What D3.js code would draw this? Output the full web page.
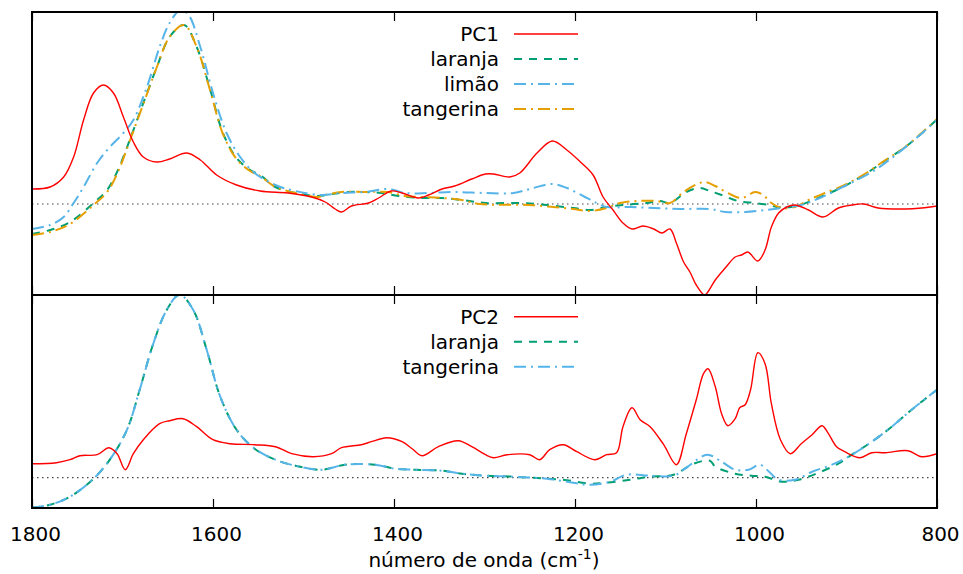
<!DOCTYPE html>
<html>
<head>
<meta charset="utf-8">
<script src="https://cdn.jsdelivr.net/npm/d3@7"></script>
<style>
  html, body { margin: 0; padding: 0; background: #fff; }
  svg { display: block; font-family: "DejaVu Sans", sans-serif; }
</style>
</head>
<body>
<svg id="chart" width="963" height="574"></svg>
<script>
// ---------------- DATA (wavenumber cm-1, arbitrary intensity) ----------------
const xTicks = [1800, 1600, 1400, 1200, 1000, 800];

// Top panel
const pc1 = [[1800,0.15],[1780,0.17],[1765,0.27],[1754,0.47],[1743,0.84],[1732,1.11],[1721,1.19],[1710,1.11],[1699,0.87],[1688,0.62],[1677,0.47],[1662,0.42],[1648,0.45],[1629,0.51],[1614,0.44],[1596,0.29],[1574,0.19],[1548,0.13],[1517,0.11],[1491,0.07],[1476,0.02],[1465,-0.05],[1458,-0.08],[1447,-0.02],[1428,0.01],[1417,0.06],[1403,0.13],[1391,0.11],[1373,0.06],[1362,0.09],[1347,0.15],[1333,0.18],[1314,0.25],[1299,0.30],[1290,0.30],[1272,0.27],[1261,0.31],[1242,0.51],[1225,0.63],[1209,0.54],[1194,0.42],[1180,0.29],[1169,0.07],[1158,-0.06],[1147,-0.19],[1137,-0.25],[1125,-0.22],[1113,-0.25],[1104,-0.29],[1095,-0.25],[1088,-0.39],[1080,-0.58],[1073,-0.68],[1066,-0.81],[1057,-0.91],[1054,-0.89],[1045,-0.76],[1034,-0.64],[1023,-0.53],[1016,-0.51],[1009,-0.48],[998,-0.57],[990,-0.46],[983,-0.23],[975,-0.09],[966,-0.03],[957,-0.01],[942,-0.06],[926,-0.13],[909,-0.04],[894,-0.01],[881,0.00],[865,-0.04],[835,-0.05],[817,-0.04],[800,-0.02]];

const laranja1 = [[1800,-0.30],[1780,-0.26],[1758,-0.18],[1732,0.01],[1717,0.14],[1705,0.34],[1692,0.64],[1677,1.01],[1662,1.37],[1648,1.67],[1632,1.79],[1618,1.57],[1603,1.14],[1589,0.71],[1574,0.46],[1559,0.34],[1548,0.29],[1531,0.17],[1509,0.11],[1484,0.08],[1469,0.10],[1450,0.12],[1432,0.12],[1414,0.11],[1395,0.08],[1369,0.06],[1347,0.06],[1325,0.04],[1299,0.01],[1261,0.01],[1231,-0.01],[1202,-0.04],[1183,-0.06],[1165,-0.03],[1147,-0.01],[1121,0.01],[1106,0.03],[1095,0.01],[1077,0.12],[1062,0.16],[1051,0.13],[1038,0.09],[1020,0.03],[1001,0.01],[986,-0.01],[977,-0.03],[961,-0.03],[942,0.02],[924,0.09],[902,0.18],[880,0.295],[857,0.435],[835,0.57],[817,0.705],[800,0.845]];

const limao1 = [[1800,-0.25],[1780,-0.21],[1765,-0.13],[1754,0.01],[1743,0.17],[1728,0.41],[1714,0.57],[1699,0.71],[1688,0.84],[1673,1.17],[1659,1.57],[1648,1.81],[1636,1.94],[1627,1.89],[1614,1.57],[1600,1.11],[1585,0.71],[1570,0.47],[1554,0.31],[1531,0.19],[1509,0.13],[1480,0.09],[1458,0.11],[1432,0.12],[1406,0.15],[1388,0.11],[1362,0.11],[1333,0.12],[1299,0.11],[1268,0.11],[1250,0.15],[1226,0.20],[1209,0.16],[1191,0.08],[1176,0.01],[1165,-0.03],[1139,-0.03],[1113,-0.04],[1084,-0.05],[1051,-0.05],[1034,-0.08],[1012,-0.08],[990,-0.06],[972,-0.04],[950,-0.01],[927,0.07],[902,0.18],[872,0.32],[850,0.46],[828,0.62],[800,0.84]];

const tangerina1 = [[1800,-0.31],[1780,-0.28],[1758,-0.20],[1732,-0.01],[1717,0.12],[1705,0.32],[1692,0.63],[1677,1.00],[1662,1.37],[1648,1.67],[1632,1.79],[1618,1.57],[1603,1.13],[1589,0.70],[1574,0.45],[1559,0.33],[1548,0.28],[1531,0.17],[1509,0.11],[1484,0.07],[1476,0.09],[1458,0.12],[1432,0.12],[1407,0.12],[1388,0.08],[1369,0.07],[1347,0.06],[1325,0.04],[1305,0.00],[1250,-0.01],[1224,-0.03],[1202,-0.05],[1183,-0.07],[1165,-0.04],[1150,0.01],[1132,0.03],[1110,0.03],[1095,0.01],[1080,0.12],[1065,0.20],[1056,0.22],[1045,0.18],[1031,0.11],[1016,0.06],[1001,0.12],[992,0.09],[983,0.01],[972,-0.04],[957,-0.03],[942,0.04],[924,0.11],[902,0.19],[880,0.30],[857,0.44],[835,0.57],[817,0.71],[800,0.85]];

// Bottom panel
const pc2 = [[1800,0.14],[1773,0.15],[1758,0.18],[1747,0.22],[1728,0.23],[1715,0.30],[1706,0.24],[1697,0.08],[1688,0.24],[1677,0.38],[1659,0.54],[1648,0.57],[1633,0.59],[1618,0.51],[1600,0.38],[1581,0.34],[1554,0.33],[1531,0.31],[1513,0.24],[1489,0.21],[1469,0.24],[1458,0.30],[1436,0.33],[1425,0.36],[1408,0.40],[1391,0.36],[1380,0.29],[1369,0.22],[1351,0.31],[1329,0.37],[1314,0.31],[1299,0.23],[1290,0.20],[1275,0.23],[1250,0.23],[1239,0.18],[1228,0.28],[1213,0.33],[1198,0.26],[1178,0.18],[1165,0.23],[1154,0.25],[1147,0.51],[1137,0.70],[1128,0.58],[1117,0.51],[1102,0.33],[1088,0.13],[1077,0.44],[1066,0.78],[1058,1.04],[1053,1.09],[1045,0.91],[1038,0.64],[1031,0.52],[1023,0.59],[1018,0.70],[1012,0.73],[1006,0.88],[998,1.25],[990,1.14],[983,0.74],[973,0.38],[962,0.24],[950,0.34],[938,0.43],[927,0.52],[920,0.44],[911,0.31],[902,0.26],[885,0.20],[872,0.25],[857,0.25],[832,0.27],[817,0.21],[800,0.24]];

const laranja2 = [[1800,-0.30],[1780,-0.27],[1758,-0.19],[1732,-0.01],[1714,0.18],[1695,0.48],[1681,0.88],[1666,1.34],[1651,1.68],[1637,1.83],[1622,1.68],[1607,1.28],[1592,0.81],[1574,0.48],[1554,0.29],[1531,0.18],[1509,0.12],[1480,0.08],[1454,0.13],[1421,0.13],[1399,0.09],[1377,0.08],[1347,0.07],[1325,0.04],[1299,0.02],[1268,0.01],[1231,-0.01],[1213,-0.02],[1183,-0.06],[1165,-0.05],[1139,-0.02],[1117,0.01],[1091,0.03],[1069,0.14],[1051,0.17],[1045,0.11],[1023,0.04],[1005,0.02],[990,0.01],[972,-0.04],[953,-0.02],[931,0.05],[909,0.14],[894,0.23],[872,0.36],[850,0.51],[828,0.68],[800,0.88]];

const tangerina2 = [[1800,-0.30],[1780,-0.27],[1758,-0.19],[1732,-0.01],[1714,0.18],[1695,0.48],[1681,0.88],[1666,1.34],[1651,1.68],[1637,1.83],[1622,1.68],[1607,1.28],[1592,0.81],[1574,0.48],[1554,0.29],[1531,0.18],[1509,0.12],[1480,0.08],[1454,0.13],[1421,0.13],[1399,0.09],[1377,0.08],[1347,0.07],[1325,0.04],[1299,0.02],[1268,0.01],[1231,-0.01],[1202,-0.05],[1183,-0.07],[1161,-0.04],[1143,0.03],[1117,0.02],[1091,0.02],[1077,0.10],[1054,0.23],[1038,0.16],[1023,0.08],[1008,0.08],[996,0.13],[988,0.08],[975,-0.02],[957,-0.02],[938,0.06],[916,0.13],[894,0.23],[872,0.36],[850,0.51],[828,0.68],[800,0.88]];

// ---------------- LAYOUT ----------------
const svg = d3.select("#chart");
const left = 32, right = 937;
const x = d3.scaleLinear().domain([1800, 800]).range([left, right]);

const styles = {
  pc:        { color: "#ff0000", dash: null,        width: 1.4 },
  laranja:   { color: "#009e73", dash: "8,7",       width: 2 },
  limao:     { color: "#56b4e9", dash: "12,5,2,5",  width: 2 },
  tangerina: { color: "#e69f00", dash: "12,5,2,5",  width: 2 }
};

const panels = [
  { id: "top", top: 12, bottom: 295, domain: [-0.91, 1.92],
    series: [
      { name: "PC1", data: pc1, style: styles.pc },
      { name: "laranja", data: laranja1, style: styles.laranja },
      { name: "limão", data: limao1, style: styles.limao },
      { name: "tangerina", data: tangerina1, style: styles.tangerina }
    ],
    drawOrder: [1, 3, 2, 0], legendY0: 34 },
  { id: "bot", top: 295, bottom: 508, domain: [-0.303, 1.827],
    series: [
      { name: "PC2", data: pc2, style: styles.pc },
      { name: "laranja", data: laranja2, style: styles.laranja },
      { name: "tangerina", data: tangerina2, style: styles.limao }
    ],
    drawOrder: [1, 2, 0], legendY0: 316.7 }
];

panels.forEach(p => {
  const y = d3.scaleLinear().domain(p.domain).range([p.bottom, p.top]);
  const g = svg.append("g");

  svg.append("clipPath").attr("id", "clip-" + p.id)
    .append("rect").attr("x", left).attr("y", p.top)
    .attr("width", right - left).attr("height", p.bottom - p.top);

  // zero line
  g.append("line")
    .attr("x1", left).attr("x2", right)
    .attr("y1", y(0)).attr("y2", y(0))
    .attr("stroke", "#444").attr("stroke-width", 1.2)
    .attr("stroke-dasharray", "1.5,3.5");

  const line = d3.line()
    .x(d => x(d[0])).y(d => y(d[1]))
    .curve(d3.curveCatmullRom.alpha(0.5));

  const lg = g.append("g").attr("clip-path", "url(#clip-" + p.id + ")");
  p.drawOrder.forEach(i => {
    const s = p.series[i];
    lg.append("path")
      .datum(s.data)
      .attr("d", line)
      .attr("fill", "none")
      .attr("stroke", s.style.color)
      .attr("stroke-width", s.style.width)
      .attr("stroke-dasharray", s.style.dash)
      .attr("stroke-linejoin", "round");
  });

  // ticks: inward at top and bottom
  const axTop = d3.axisBottom(x).tickValues(xTicks).tickSize(9).tickFormat("");
  const axBot = d3.axisTop(x).tickValues(xTicks).tickSize(9).tickFormat("");
  g.append("g").attr("transform", `translate(0,${p.top})`).call(axTop)
    .call(a => a.select(".domain").remove())
    .selectAll("line").attr("stroke", "#000").attr("stroke-width", 1.2);
  g.append("g").attr("transform", `translate(0,${p.bottom})`).call(axBot)
    .call(a => a.select(".domain").remove())
    .selectAll("line").attr("stroke", "#000").attr("stroke-width", 1.2);

  // frame
  g.append("rect")
    .attr("x", left).attr("y", p.top)
    .attr("width", right - left).attr("height", p.bottom - p.top)
    .attr("fill", "none").attr("stroke", "#000").attr("stroke-width", 2);

  // legend
  const leg = g.append("g");
  p.series.forEach((s, i) => {
    const ly = p.legendY0 + i * 25;
    leg.append("text")
      .attr("x", 499).attr("y", ly + 7.3)
      .attr("text-anchor", "end")
      .attr("font-size", 20)
      .attr("fill", "#000")
      .text(s.name);
    leg.append("line")
      .attr("x1", 514).attr("x2", 578)
      .attr("y1", ly).attr("y2", ly)
      .attr("stroke", s.style.color)
      .attr("stroke-width", s.style.width)
      .attr("stroke-dasharray", s.style.dash);
  });
});

// x tick labels
const axisLabels = d3.axisBottom(x).tickValues(xTicks).tickSize(0).tickPadding(0).tickFormat(d3.format("d"));
const la = svg.append("g").attr("transform", "translate(3,527)").call(axisLabels);
la.select(".domain").remove();
la.selectAll("text").attr("font-size", 20).attr("font-family", "DejaVu Sans, sans-serif").attr("fill", "#000").attr("dy", "0.71em");

// x axis title
const title = svg.append("text")
  .attr("x", 484).attr("y", 567)
  .attr("text-anchor", "middle")
  .attr("font-size", 20)
  .attr("fill", "#000");
title.append("tspan").text("número de onda (cm");
title.append("tspan").attr("font-size", 14).attr("dy", -8).text("-1");
title.append("tspan").attr("dy", 8).text(")");
</script>
</body>
</html>
